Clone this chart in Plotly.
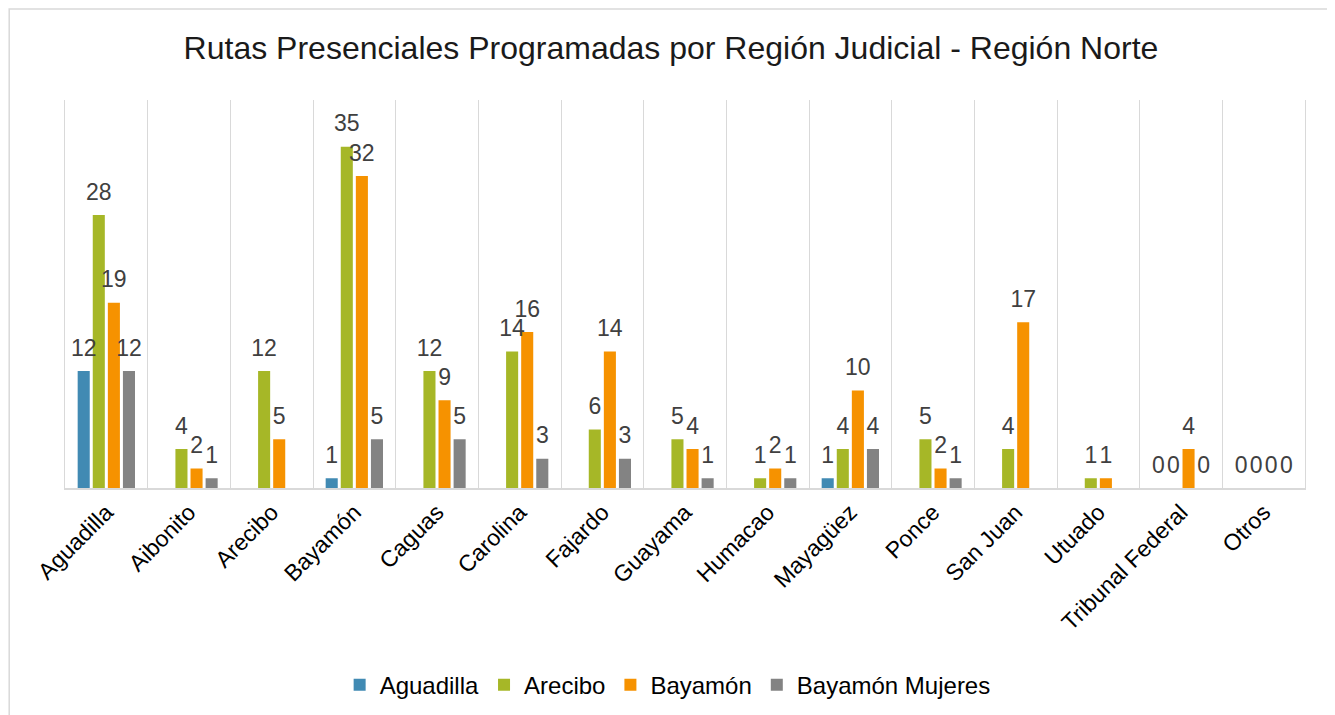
import plotly.graph_objects as go

# Regions (categories) on the x axis
regiones = ["Aguadilla", "Aibonito", "Arecibo", "Bayamón", "Caguas", "Carolina",
            "Fajardo", "Guayama", "Humacao", "Mayagüez", "Ponce", "San Juan",
            "Utuado", "Tribunal Federal", "Otros"]

# Series values (None = no value shown)
aguadilla = [12, None, None, 1, None, None, None, None, None, 1, None, None, None, 0, 0]
arecibo = [28, 4, 12, 35, 12, 14, 6, 5, 1, 4, 5, 4, 1, 0, 0]
bayamon = [19, 2, 5, 32, 9, 16, 14, 4, 2, 10, 2, 17, 1, 4, 0]
bayamon_mujeres = [12, 1, None, 5, 5, 3, 3, 1, 1, 4, 1, None, None, 0, 0]

series = [
    ("Aguadilla", aguadilla, "#418AB3"),
    ("Arecibo", arecibo, "#A6B727"),
    ("Bayamón", bayamon, "#F69200"),
    ("Bayamón Mujeres", bayamon_mujeres, "#838383"),
]

FONT = "Liberation Sans, Arial"

fig = go.Figure()
for name, vals, color in series:
    fig.add_trace(go.Bar(
        name=name, x=regiones, y=vals,
        marker=dict(color=color, line=dict(width=0)),
        hoverinfo="x+y+name",
    ))

# data labels: invisible markers in group mode so the text sits a bit above each bar
for name, vals, color in series:
    fig.add_trace(go.Scatter(
        x=regiones, y=vals, mode="markers+text",
        text=[("" if v is None else str(v)) for v in vals],
        textposition="top center",
        marker=dict(size=14, color="rgba(0,0,0,0)"),
        textfont=dict(size=23, color="#404040", family=FONT),
        showlegend=False, hoverinfo="skip", cliponaxis=False,
    ))

fig.update_layout(
    width=1335, height=715,
    barmode="group", bargap=0.27, bargroupgap=0.2,
    scattermode="group", scattergap=0.27,
    plot_bgcolor="white", paper_bgcolor="white",
    font=dict(family=FONT, color="#000000"),
    title=dict(text="Rutas Presenciales Programadas por Región Judicial - Región Norte",
               x=0.4966, xanchor="center", y=0.944, yanchor="middle",
               font=dict(size=32, color="#1a1a1a")),
    margin=dict(l=57, r=38, t=92, b=235),
    showlegend=True,
    legend=dict(orientation="h", x=0.486, xanchor="center", y=-0.508, yanchor="middle",
                font=dict(size=24, color="#000000"), traceorder="normal"),
    xaxis=dict(type="category", tickson="boundaries", showgrid=True, automargin=False,
               gridcolor="#d9d9d9", gridwidth=1, showline=True, linecolor="#d9d9d9",
               linewidth=1.5, ticks="", tickangle=-45,
               tickfont=dict(size=23, color="#000000")),
    yaxis=dict(range=[0, 39.8], showgrid=False, showticklabels=False, zeroline=False,
               automargin=False,
               showline=True, mirror=True, linecolor="#d9d9d9", linewidth=1),
    shapes=[dict(type="rect", xref="paper", yref="paper",
                 x0=-0.045, x1=1.0226, y0=-0.62, y1=1.2345,
                 line=dict(color="#d9d9d9", width=1.5), fillcolor="rgba(0,0,0,0)")],
)

fig.write_html("out.html")
